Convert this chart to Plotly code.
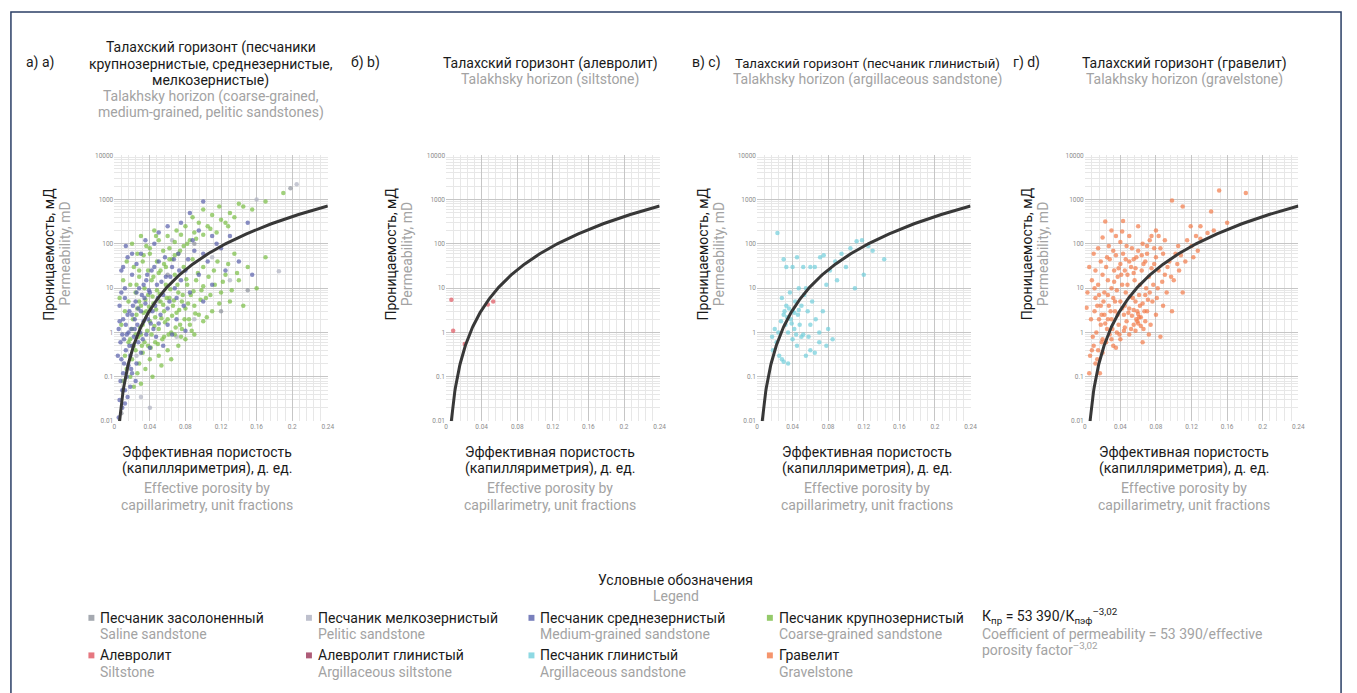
import numpy as np
import plotly.graph_objects as go

W, H = 1357, 693
FONT = "Roboto"
BLACK = "#1a1a1a"
GRAY = "#a3a3a3"
FS = 14

# ---- data: effective porosity (unit fractions), permeability (mD) ----
coarse_pts = [
    (0.19, 1400), (0.17, 900), (0.155, 600), (0.14, 800), (0.13, 500), (0.125, 300), (0.118, 700),
    (0.11, 450), (0.105, 250), (0.10, 600), (0.095, 300), (0.09, 180), (0.088, 400), (0.085, 120),
    (0.08, 250), (0.078, 90), (0.075, 160), (0.072, 60), (0.07, 200), (0.068, 110), (0.065, 45),
    (0.062, 80), (0.06, 150), (0.058, 30), (0.055, 70), (0.052, 25), (0.05, 120), (0.048, 40),
    (0.045, 200), (0.042, 15), (0.04, 60), (0.038, 25), (0.036, 90), (0.034, 10), (0.032, 40),
    (0.03, 150), (0.028, 18), (0.026, 60), (0.024, 8), (0.022, 30), (0.02, 100), (0.018, 12),
    (0.016, 5), (0.014, 40), (0.012, 3), (0.01, 15), (0.008, 1.5), (0.006, 6),
    (0.02, 1.2), (0.022, 0.5), (0.025, 2.5), (0.027, 0.8), (0.03, 4), (0.032, 1.5), (0.034, 0.6),
    (0.036, 3), (0.038, 7), (0.04, 1.8), (0.042, 0.9), (0.044, 4.5), (0.046, 2.2), (0.048, 9),
    (0.05, 1.2), (0.052, 5), (0.054, 0.7), (0.056, 3), (0.058, 12), (0.06, 2), (0.062, 6),
    (0.064, 1), (0.066, 4), (0.068, 20), (0.07, 2.8), (0.072, 8), (0.074, 1.5), (0.076, 5),
    (0.078, 30), (0.08, 3.5), (0.082, 12), (0.084, 2), (0.086, 7), (0.088, 45), (0.09, 4),
    (0.092, 15), (0.095, 2.5), (0.098, 9), (0.10, 30), (0.103, 6), (0.106, 18), (0.11, 3),
    (0.113, 12), (0.116, 40), (0.12, 8), (0.125, 20), (0.13, 5), (0.135, 60), (0.14, 15),
    (0.145, 4), (0.15, 30), (0.16, 10), (0.17, 50),
    (0.01, 0.08), (0.012, 0.3), (0.014, 0.15), (0.016, 0.6), (0.018, 0.1), (0.02, 0.25),
    (0.022, 0.06), (0.024, 0.4), (0.026, 0.12), (0.028, 0.2), (0.03, 0.07), (0.032, 0.35),
    (0.035, 0.15), (0.038, 0.5), (0.04, 0.25), (0.043, 0.1), (0.046, 0.6), (0.05, 0.3),
    (0.053, 0.18), (0.056, 0.8), (0.06, 0.4), (0.064, 0.25), (0.068, 0.9), (0.072, 0.5),
    (0.076, 1.2), (0.08, 0.7), (0.085, 1.5), (0.09, 0.9), (0.10, 1.8),
    (0.03, 0.9), (0.033, 2.8), (0.035, 5.5), (0.037, 1.1), (0.039, 3.8), (0.041, 0.45),
    (0.043, 6.5), (0.045, 1.4), (0.047, 3.3), (0.049, 0.55), (0.051, 7.5), (0.053, 2.1),
    (0.055, 4.2), (0.057, 1.7), (0.059, 6), (0.061, 0.9), (0.063, 9.5), (0.065, 2.4),
    (0.067, 5.3), (0.069, 1.3), (0.071, 12), (0.073, 3.2), (0.075, 0.8), (0.077, 7), (0.079, 2),
    (0.081, 16), (0.083, 4.5), (0.087, 1.1), (0.089, 8.5), (0.091, 2.7), (0.094, 22),
    (0.097, 5.5), (0.10, 11), (0.104, 2.2), (0.108, 7), (0.112, 25), (0.118, 4.5), (0.122, 14),
    (0.128, 35), (0.132, 9), (0.138, 22), (0.044, 18), (0.05, 22), (0.056, 35), (0.062, 45),
    (0.068, 55), (0.074, 70), (0.082, 100), (0.092, 130), (0.10, 160), (0.108, 220),
    (0.115, 180), (0.12, 350), (0.128, 250), (0.135, 400), (0.145, 700), (0.025, 12),
    (0.028, 25), (0.033, 55), (0.04, 80), (0.047, 150), (0.018, 0.7), (0.021, 2), (0.024, 0.9),
    (0.026, 3.5), (0.029, 1.3), (0.031, 0.5), (0.028, 5),
]

medium_pts = [
    (0.10, 900), (0.085, 500), (0.075, 300), (0.095, 200), (0.11, 150), (0.06, 250), (0.05, 180),
    (0.045, 100), (0.035, 120), (0.03, 60), (0.025, 35), (0.02, 20), (0.015, 50), (0.012, 10),
    (0.008, 25), (0.006, 4), (0.005, 1.2), (0.007, 0.6), (0.008, 0.25), (0.01, 0.12), (0.012, 0.05),
    (0.006, 0.03), (0.009, 0.02), (0.015, 0.035), (0.013, 0.4), (0.016, 1), (0.018, 0.3),
    (0.02, 2.5), (0.022, 0.8), (0.024, 5), (0.026, 1.5), (0.028, 10), (0.03, 3), (0.032, 0.7),
    (0.034, 6), (0.036, 15), (0.038, 2), (0.04, 8), (0.042, 25), (0.044, 1.2), (0.046, 4),
    (0.048, 12), (0.05, 40), (0.052, 2.5), (0.055, 7), (0.058, 18), (0.06, 1.5), (0.062, 5),
    (0.065, 30), (0.068, 10), (0.07, 2), (0.072, 60), (0.075, 15), (0.078, 4), (0.08, 25),
    (0.085, 8), (0.09, 70), (0.095, 20), (0.10, 5), (0.105, 40), (0.11, 12), (0.12, 80),
    (0.125, 25), (0.13, 150), (0.14, 40), (0.15, 300), (0.155, 20), (0.01, 2), (0.012, 6),
    (0.014, 0.9), (0.017, 3), (0.019, 0.15), (0.021, 0.5), (0.023, 1.2), (0.025, 0.2),
    (0.027, 0.6), (0.03, 0.35), (0.033, 1.8), (0.036, 0.9), (0.04, 0.45), (0.043, 3),
    (0.047, 0.8), (0.05, 1.6), (0.055, 0.5), (0.06, 3.5), (0.065, 0.9), (0.07, 6), (0.08, 1.1),
    (0.011, 0.7), (0.013, 1.5), (0.015, 2.5), (0.017, 0.5), (0.019, 1.2), (0.021, 4), (0.023, 2),
    (0.025, 8), (0.027, 3.5), (0.029, 1), (0.031, 7), (0.033, 12), (0.035, 4.5), (0.037, 20),
    (0.039, 9), (0.041, 1.6), (0.045, 30), (0.049, 6), (0.053, 14), (0.057, 50), (0.063, 18),
    (0.067, 45), (0.073, 25), (0.083, 45), (0.088, 120), (0.10, 60), (0.115, 100),
    (0.007, 0.08), (0.009, 0.05), (0.011, 0.2), (0.014, 0.1), (0.016, 0.18), (0.02, 0.12),
    (0.024, 0.08), (0.005, 0.012), (0.012, 0.025), (0.018, 0.06), (0.004, 0.3), (0.006, 1.8),
    (0.009, 0.9), (0.008, 8), (0.01, 30), (0.013, 90), (0.02, 60),
]

pelitic_pts = [
    (0.205, 2200), (0.16, 1000), (0.185, 24), (0.04, 0.02), (0.03, 0.035), (0.07, 0.8),
    (0.11, 50), (0.09, 2), (0.05, 5), (0.13, 15), (0.025, 0.3), (0.065, 120),
]

saline_pts = [
    (0.15, 9), (0.198, 1800), (0.008, 0.015), (0.01, 0.05), (0.02, 0.5), (0.04, 3),
    (0.06, 20), (0.09, 100), (0.12, 3),
]

siltstone_pts = [(0.006, 5.5), (0.008, 1.1), (0.021, 0.55), (0.047, 4.3), (0.053, 5.0)]

arg_sand_pts = [
    (0.023, 175), (0.071, 50), (0.143, 45), (0.112, 115), (0.118, 120), (0.125, 90), (0.105, 80),
    (0.095, 60), (0.10, 30), (0.088, 40), (0.082, 25), (0.09, 15), (0.078, 12), (0.11, 10),
    (0.12, 20), (0.13, 70), (0.075, 55), (0.065, 30), (0.06, 30), (0.055, 10), (0.052, 30),
    (0.045, 50), (0.04, 30), (0.033, 30), (0.03, 45), (0.028, 6), (0.033, 4), (0.037, 8),
    (0.04, 3), (0.043, 5), (0.046, 2.5), (0.05, 4), (0.053, 7), (0.057, 3), (0.06, 1.5),
    (0.062, 5), (0.066, 2), (0.07, 1), (0.074, 3), (0.08, 1.2), (0.085, 0.7), (0.078, 0.5),
    (0.07, 0.6), (0.065, 0.35), (0.06, 0.4), (0.055, 0.3), (0.05, 0.8), (0.045, 0.5),
    (0.042, 1.2), (0.038, 2), (0.035, 1), (0.032, 1.5), (0.03, 2.5), (0.027, 1.8), (0.024, 1),
    (0.022, 0.6), (0.02, 1.2), (0.018, 0.4), (0.017, 0.8), (0.025, 0.3), (0.03, 0.22),
    (0.035, 0.2), (0.028, 0.25), (0.04, 0.7), (0.048, 1.5), (0.052, 0.9), (0.058, 0.8),
    (0.036, 3.5), (0.034, 2.2), (0.031, 3), (0.042, 2.8), (0.047, 3.2), (0.039, 1.6),
    (0.044, 0.9), (0.047, 10),
]

gravel_pts = [
    (0.151, 1600), (0.181, 1400), (0.098, 950), (0.11, 700), (0.142, 540), (0.119, 250),
    (0.13, 250), (0.138, 175), (0.122, 50), (0.023, 320), (0.043, 330), (0.042, 190),
    (0.032, 70), (0.125, 150), (0.115, 120), (0.105, 90), (0.13, 130), (0.145, 200), (0.16, 300),
    (0.09, 120), (0.085, 80), (0.08, 200), (0.075, 150), (0.07, 60), (0.065, 100), (0.06, 250),
    (0.055, 45), (0.05, 150), (0.047, 90), (0.04, 110), (0.035, 150), (0.03, 200), (0.027, 90),
    (0.025, 50), (0.02, 140), (0.018, 40), (0.015, 80), (0.012, 25), (0.01, 60), (0.008, 15),
    (0.005, 30), (0.003, 8), (0.002, 3.6), (0.006, 0.3), (0.005, 0.12), (0.017, 0.12),
    (0.01, 0.5), (0.013, 1), (0.015, 0.4), (0.018, 1.5), (0.02, 0.7), (0.022, 2.5), (0.025, 1.2),
    (0.027, 4), (0.03, 2), (0.032, 6), (0.034, 3), (0.036, 9), (0.038, 1.5), (0.04, 5),
    (0.042, 12), (0.044, 2.5), (0.046, 8), (0.048, 20), (0.05, 3.5), (0.052, 1.2), (0.054, 6),
    (0.056, 15), (0.058, 2), (0.059, 1.8), (0.06, 1.6), (0.061, 2.2), (0.062, 4), (0.064, 25),
    (0.066, 1.2), (0.068, 7), (0.07, 3), (0.072, 18), (0.074, 1.5), (0.076, 5), (0.078, 35),
    (0.08, 2.5), (0.082, 10), (0.085, 0.8), (0.088, 4), (0.09, 20), (0.092, 8), (0.095, 40),
    (0.098, 3), (0.10, 15), (0.102, 60), (0.106, 25), (0.11, 8), (0.012, 6), (0.015, 12),
    (0.018, 4), (0.02, 20), (0.022, 8), (0.024, 30), (0.026, 15), (0.028, 45), (0.03, 10),
    (0.033, 25), (0.035, 55), (0.037, 18), (0.04, 35), (0.043, 60), (0.045, 25), (0.05, 40),
    (0.053, 80), (0.055, 22), (0.058, 50), (0.062, 12), (0.066, 35), (0.07, 90), (0.075, 28),
    (0.08, 50), (0.007, 2), (0.009, 0.8), (0.011, 3), (0.014, 0.25), (0.016, 2), (0.02, 0.35),
    (0.024, 0.6), (0.028, 0.9), (0.032, 0.5), (0.036, 1), (0.04, 0.7), (0.045, 1.3),
    (0.05, 0.9), (0.055, 1.5), (0.06, 2.6), (0.057, 1.1), (0.063, 1.4), (0.065, 0.6),
    (0.068, 1.8), (0.072, 0.9),
    (0.045, 4), (0.047, 1.8), (0.049, 2.8), (0.051, 6.5), (0.053, 2.4), (0.055, 3.2), (0.057, 5),
    (0.059, 3), (0.061, 7), (0.063, 2.2), (0.065, 4.5), (0.067, 3), (0.069, 10), (0.071, 5.5),
    (0.073, 8), (0.077, 12), (0.081, 6), (0.083, 25), (0.087, 14), (0.093, 30), (0.097, 18),
    (0.104, 35), (0.108, 55), (0.113, 40), (0.12, 90), (0.127, 70), (0.033, 14), (0.038, 28),
    (0.041, 20), (0.046, 45), (0.048, 12), (0.052, 30), (0.057, 28), (0.06, 70), (0.064, 55),
    (0.068, 40), (0.073, 120), (0.078, 80), (0.083, 150), (0.088, 60), (0.011, 10), (0.014, 4),
    (0.016, 7), (0.019, 2.5), (0.021, 5), (0.023, 1.6), (0.026, 7), (0.029, 3), (0.031, 1.2),
    (0.034, 5), (0.037, 2.5), (0.039, 0.9), (0.042, 3.5), (0.044, 1.1), (0.008, 0.4),
    (0.012, 0.2), (0.019, 0.6), (0.026, 2), (0.03, 0.7), (0.035, 0.45),
]

# fitted relation K = A * phi^B
COEF_A = 53390.0
COEF_B = 3.02

x_ticks = [0, 0.04, 0.08, 0.12, 0.16, 0.2, 0.24]
x_tick_text = ["0", "0.04", "0.08", "0.12", "0.16", "0.2", "0.24"]
y_ticks = [0.01, 0.1, 1, 10, 100, 1000, 10000]
y_tick_text = ["0.01", "0.1", "1", "10", "100", "1000", "10000"]

COLORS = {
    "saline": "#8f939c",
    "pelitic": "#aeb0c0",
    "medium": "#5860ab",
    "coarse": "#79bd45",
    "silt": "#e05560",
    "argsilt": "#9a3356",
    "argsand": "#72cfdc",
    "gravel": "#f27a48",
}

# plot-area pixel boxes for the four panels
PLOT_TOP, PLOT_BOTTOM = 153, 422
PANEL_X = [(113, 328), (447, 662), (760, 975), (1090, 1305)]


def px(x):
    return x / W


def py(y):
    return 1 - y / H


fig = go.Figure()

panel_series = [
    [("saline", saline_pts), ("pelitic", pelitic_pts), ("coarse", coarse_pts), ("medium", medium_pts)],
    [("silt", siltstone_pts)],
    [("argsand", arg_sand_pts)],
    [("gravel", gravel_pts)],
]

phi_curve = np.linspace((0.01 / COEF_A) ** (1 / COEF_B), 0.24, 300)
k_curve = COEF_A * phi_curve ** COEF_B

for i, series in enumerate(panel_series):
    xa = "x" if i == 0 else f"x{i + 1}"
    ya = "y" if i == 0 else f"y{i + 1}"
    for key, pts in series:
        xs = [p[0] for p in pts]
        ys = [p[1] for p in pts]
        fig.add_trace(go.Scatter(
            x=xs, y=ys, mode="markers", xaxis=xa, yaxis=ya, showlegend=False,
            marker=dict(size=4.5, color=COLORS[key], opacity=0.7, line=dict(width=0)),
        ))
    fig.add_trace(go.Scatter(
        x=phi_curve, y=k_curve, mode="lines", xaxis=xa, yaxis=ya, showlegend=False,
        line=dict(color="#383838", width=3),
    ))

axis_font = dict(family=FONT, size=6.5, color="#8c8c8c")
layout_axes = {}
for i, (l, r) in enumerate(PANEL_X):
    sx = "" if i == 0 else str(i + 1)
    layout_axes[f"xaxis{sx}"] = dict(
        domain=[px(l), px(r)], anchor=f"y{sx}", range=[0, 0.24],
        tickvals=x_ticks, ticktext=x_tick_text, tickfont=axis_font,
        showgrid=True, gridcolor="#c6c6c6", gridwidth=1.4, zeroline=False, showline=False,
        ticks="", ticklen=0,
        minor=dict(dtick=0.008, showgrid=True, gridcolor="#e7e7e7", gridwidth=0.8),
    )
    layout_axes[f"yaxis{sx}"] = dict(
        domain=[py(PLOT_BOTTOM), py(PLOT_TOP)], anchor=f"x{sx}", type="log", range=[-2, 4],
        tickvals=y_ticks, ticktext=y_tick_text, tickfont=axis_font,
        showgrid=True, gridcolor="#c6c6c6", gridwidth=1.4, zeroline=False, showline=False,
        ticks="", ticklen=0,
        minor=dict(dtick="D1", showgrid=True, gridcolor="#e7e7e7", gridwidth=0.8),
    )

annotations = []


def text(x, y, s, size=FS, color=BLACK, anchor="center", angle=0):
    annotations.append(dict(
        x=px(x), y=py(y), xref="paper", yref="paper", text=s, showarrow=False,
        xanchor=anchor, yanchor="middle", textangle=angle,
        font=dict(family=FONT, size=size, color=color),
    ))


# panel letters and titles
text(22, 59, "а) a)", anchor="left")
text(349, 59, "б) b)", anchor="left")
text(693, 59, "в) c)", anchor="left")
text(1016, 59, "г) d)", anchor="left")

title_a = ["Талахский горизонт (песчаники", "крупнозернистые, среднезернистые,", "мелкозернистые)"]
title_a_en = ["Talakhsky horizon (coarse-grained,", "medium-grained, pelitic sandstones)"]
for j, s in enumerate(title_a):
    text(210, 44 + 16.5 * j, s)
for j, s in enumerate(title_a_en):
    text(210, 93.5 + 16.5 * j, s, color=GRAY)

# (centre x, Russian title, English title, Russian font size)
titles_rest = [
    (552, "Талахский горизонт (алевролит)", "Talakhsky horizon (siltstone)", FS),
    (871, "Талахский горизонт (песчаник глинистый)", "Talakhsky horizon (argillaceous sandstone)", 13.2),
    (1190, "Талахский горизонт (гравелит)", "Talakhsky horizon (gravelstone)", FS),
]
for cx, ru, en, fs in titles_rest:
    text(cx, 60, ru, size=fs)
    text(cx, 76.5, en, color=GRAY)

# y-axis titles
for xb, xg in [(47, 63), (392, 408), (706, 722), (1032, 1048)]:
    text(xb, 253, "Проницаемость, мД", angle=-90)
    text(xg, 253, "Permeability, mD", color=GRAY, angle=-90)

# x-axis titles
for cx in [206, 552, 871, 1190]:
    text(cx, 453, "Эффективная пористость")
    text(cx, 470, "(капилляриметрия), д. ед.")
    text(cx, 490, "Effective porosity by", color=GRAY)
    text(cx, 507, "capillarimetry, unit fractions", color=GRAY)

# legend block
text(678, 583, "Условные обозначения")
text(678, 599, "Legend", color=GRAY)

legend_items = [
    (97, 621, "saline", "Песчаник засолоненный", "Saline sandstone"),
    (97, 659, "silt", "Алевролит", "Siltstone"),
    (316, 621, "pelitic", "Песчаник мелкозернистый", "Pelitic sandstone"),
    (316, 659, "argsilt", "Алевролит глинистый", "Argillaceous siltstone"),
    (540, 621, "medium", "Песчаник среднезернистый", "Medium-grained sandstone"),
    (540, 659, "argsand", "Песчаник глинистый", "Argillaceous sandstone"),
    (780, 621, "coarse", "Песчаник крупнозернистый", "Coarse-grained sandstone"),
    (780, 659, "gravel", "Гравелит", "Gravelstone"),
]
shapes = []
for tx, ty, key, ru, en in legend_items:
    text(tx, ty, ru, anchor="left")
    text(tx, ty + 16.5, en, color=GRAY, anchor="left")
    shapes.append(dict(
        type="rect", xref="paper", yref="paper",
        x0=px(tx - 10), x1=px(tx - 4), y0=py(ty + 3), y1=py(ty - 3),
        fillcolor=COLORS[key], opacity=0.8, line=dict(width=0),
    ))

text(985, 619, "К<sub>пр</sub> = 53 390/К<sub>пэф</sub><sup>–3,02</sup>", anchor="left")
text(985, 637, "Coefficient of permeability = 53 390/effective", color=GRAY, anchor="left")
text(985, 653, "porosity factor<sup>–3,02</sup>", color=GRAY, anchor="left")

# outer frame
shapes.append(dict(
    type="rect", xref="paper", yref="paper",
    x0=px(9), x1=px(1348), y0=py(705), y1=py(8),
    line=dict(color="#2b3f66", width=1.5), fillcolor="rgba(0,0,0,0)",
))

fig.update_layout(
    width=W, height=H, margin=dict(l=0, r=0, t=0, b=0),
    paper_bgcolor="white", plot_bgcolor="white",
    annotations=annotations, shapes=shapes, showlegend=False,
    **layout_axes,
)

fig.write_html("out.html")
